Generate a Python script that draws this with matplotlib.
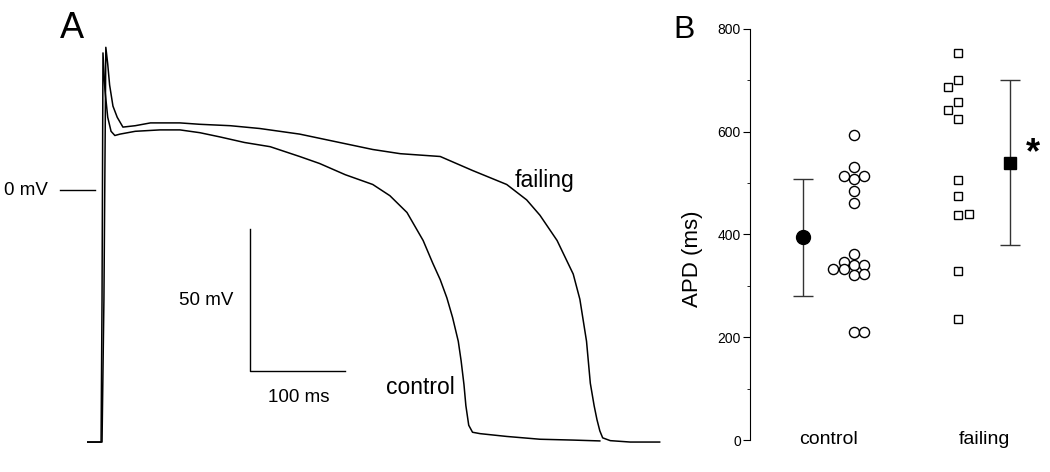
import matplotlib
matplotlib.use("Agg")
import matplotlib.pyplot as plt

plt.rcParams['font.family'] = ['Liberation Sans', 'DejaVu Sans']

# panel A - action potential traces (time in ms, voltage in mV)
ctrl_t = [-16, -2, -1, 0, 2, 5, 8.5, 12.5, 18, 34, 60, 81, 102, 123, 149, 176, 207, 228,
          255, 284, 302, 320, 337, 347, 355, 362, 368, 374, 377, 380, 382, 385, 389, 397,
          425, 460, 495, 523]
ctrl_v = [-90, -90, -39, 49, 36, 26, 21, 19.5, 20, 21, 21.5, 21.5, 20.5, 19, 17, 15.5, 12, 9.5,
          5.5, 2, -2, -8, -18, -26, -32, -38.5, -45.5, -54, -61, -69.5, -77, -84, -86.5, -87,
          -88, -89, -89.3, -89.6]

fail_t = [-16, -1, 1, 3, 5, 7, 10.5, 15, 21, 34, 50, 81, 102, 134, 165, 207, 249, 284, 313,
          355, 389, 425, 446, 460, 478, 495, 502, 509, 513, 517, 520, 523, 526, 534, 555, 586]
fail_v = [-90, -90, -39, 51, 45, 37.5, 30, 26, 22.5, 23, 24, 24, 23.5, 23, 22, 20, 17, 14.5, 13,
          12, 7, 2, -3.5, -9, -18, -30, -39, -54, -69, -77, -82, -86, -88.5, -89.5, -90, -90]

# panel B - APD values (ms)
groups = ['control', 'failing']
ctrl_apd = [594, 531, 514, 509, 514, 485, 462, 362, 347, 341, 341, 332, 332, 321, 323, 211, 211]
fail_apd = [753, 700, 687, 657, 642, 624, 506, 474, 437, 439, 328, 235]
ctrl_mean, ctrl_err = 395, 114
fail_mean, fail_err = 540, 161

# horizontal spread of the overlapping symbols (in px)
ctrl_dx = [0, 0, -10, 0, 10, 0, 0, 0, -10, 0, 10, -21, -10, 0, 10, 0, 10]
fail_dx = [0, 0, -10, 0, -10, 0, 0, 0, 0, 11, 0, 0]

fig = plt.figure(figsize=(10.5, 4.72), dpi=100)

# ---- panel A ----
axA = fig.add_axes([0, 0, 680 / 1050, 1])
axA.plot(fail_t, fail_v, color='black', lw=1.1)
axA.plot(ctrl_t, ctrl_v, color='black', lw=1.1)
axA.set_xlim(-108.4, 607.4)
axA.set_ylim(-100.7, 67.9)
axA.axis('off')

# 0 mV marker
axA.plot([-45, -8.5], [0, 0], color='black', lw=1)
axA.text(-58, 0, '0 mV', ha='right', va='center', fontsize=13.5)

# scale bars
axA.plot([155, 155, 255], [-14, -64.5, -64.5], color='black', lw=1)
axA.text(137, -39.3, '50 mV', ha='right', va='center', fontsize=13.5)
axA.text(206, -74, '100 ms', ha='center', va='center', fontsize=13.5)

axA.text(465, 3.6, 'failing', ha='center', va='center', fontsize=16.5)
axA.text(334, -70.4, 'control', ha='center', va='center', fontsize=16.5)

fig.text(72 / 1050, 1 - 28.5 / 472, 'A', ha='center', va='center', fontsize=26)

# ---- panel B ----
axB = fig.add_axes([750 / 1050, 32 / 472, 300 / 1050, 411 / 472])
axB.set_xlim(0.5, 2.423)
axB.set_ylim(0, 800)
px = 1 / 156.0

axB.plot([1 + 0.165 + d * px for d in ctrl_dx], ctrl_apd, 'o', ms=7.3, mfc='white',
         mec='black', mew=1, clip_on=False)
axB.plot([2 - 0.167 + d * px for d in fail_dx], fail_apd, 's', ms=6.3, mfc='white',
         mec='black', mew=1, clip_on=False)

axB.errorbar([1 - 0.16], [ctrl_mean], yerr=[ctrl_err], fmt='o', ms=10, color='black',
             ecolor='#333333', elinewidth=1, capsize=7, capthick=1)
axB.errorbar([2 + 0.167], [fail_mean], yerr=[fail_err], fmt='s', ms=9, color='black',
             ecolor='#333333', elinewidth=1, capsize=7, capthick=1)
axB.text(2.314, 558, '*', ha='center', va='center', fontsize=26, fontweight='bold')

for i, g in enumerate(groups):
    axB.text(i + 1, 0, g, ha='center', va='center', fontsize=14)

axB.spines['top'].set_visible(False)
axB.spines['right'].set_visible(False)
axB.spines['bottom'].set_visible(False)
axB.xaxis.set_visible(False)
axB.set_yticks([0, 200, 400, 600, 800])
axB.set_yticks([100, 300, 500, 700], minor=True)
axB.tick_params(axis='y', which='major', length=5, pad=1.5, labelsize=10)
axB.tick_params(axis='y', which='minor', length=2.5)
axB.text(-0.193, 0.44, 'APD (ms)', transform=axB.transAxes, rotation=90,
         ha='center', va='center', fontsize=16)

fig.text(684 / 1050, 1 - 30 / 472, 'B', ha='center', va='center', fontsize=23)

fig.savefig('out.png', dpi=100)
